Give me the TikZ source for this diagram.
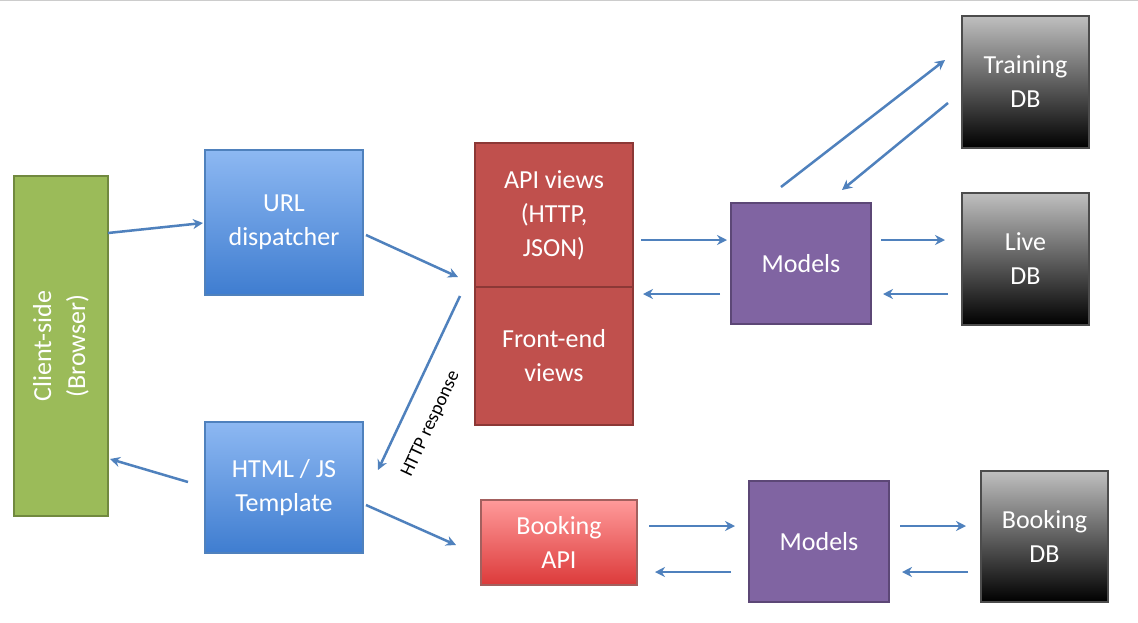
\documentclass[tikz,border=0pt]{standalone}
\usepackage{fontspec}
\setmainfont{Carlito}
\usetikzlibrary{arrows.meta}
\definecolor{arr}{HTML}{4F81BD}
\definecolor{grnf}{HTML}{9BBB59}\definecolor{grnd}{HTML}{71893F}
\definecolor{bluT}{HTML}{8DB8F2}\definecolor{bluB}{HTML}{3F7DD0}\definecolor{blud}{HTML}{4F81BD}
\definecolor{redf}{HTML}{C0504D}\definecolor{redd}{HTML}{8C3836}
\definecolor{lredT}{HTML}{FF9A9A}\definecolor{lredB}{HTML}{DC3A3A}
\definecolor{purf}{HTML}{8064A2}\definecolor{purd}{HTML}{5C4776}
\tikzset{
 txt/.style={text=white, align=center, font=\fontsize{26}{34}\selectfont},
 box/.style={draw, line width=1.2pt, inner sep=0pt, txt},
 grn/.style={box, fill=grnf, draw=grnd},
 blu/.style={box, draw=blud, top color=bluT, bottom color=bluB},
 red/.style={box, draw=redd, fill=redf},
 lred/.style={box, draw=redd!80, top color=lredT, bottom color=lredB},
 pur/.style={box, draw=purd, fill=purf},
 blk/.style={box, draw=black!70, top color=black!25, bottom color=black},
 con/.style={draw=arr, line width=2.5pt, -{Stealth[length=10pt,width=10pt]}}
}
\begin{document}
\begin{tikzpicture}[x=1pt,y=-1pt]
\useasboundingbox[fill=white] (0,0) rectangle (1138,622);
\draw[black!20] (0,0.5) -- (1138,0.5);
\node[grn, minimum width=94, minimum height=340] (cl) at (61,346) {};
\node[txt, rotate=90] (clt) at (cl) {Client-side\\(Browser)};
\node[blu, minimum width=158, minimum height=145] (url) at (284,222.5) {URL\\dispatcher};
\node[blu, minimum width=158, minimum height=131] (tpl) at (284,487.5) {HTML / JS\\Template};
\node[red, minimum width=158, minimum height=144] (api) at (554,215) {API views\\(HTTP,\\JSON)};
\node[red, minimum width=158, minimum height=138] (fe) at (554,356) {Front-end\\views};
\node[lred, minimum width=156, minimum height=85] (bapi) at (559,542.5) {Booking\\API};
\node[pur, minimum width=140, minimum height=121] (m1) at (801,263.5) {Models};
\node[pur, minimum width=140, minimum height=121] (m2) at (819,541.5) {Models};
\node[blk, minimum width=127, minimum height=132] (tdb) at (1025.5,82) {Training\\DB};
\node[blk, minimum width=127, minimum height=132] (ldb) at (1025.5,259) {Live\\DB};
\node[blk, minimum width=127, minimum height=131] (bdb) at (1044.5,536.5) {Booking\\DB};
\foreach \n/\x/\y in {a1/108/233,a2/203/223,b1/366/235,b2/458/277,c1/460/296,c2/378/470,
 d1/188/482,d2/110/459,e1/366/505,e2/456/545,f1/641/240,f2/727/240,g1/720/294,g2/643/294,
 h1/781/187,h2/945/60,i1/948/103,i2/842/190,j1/881/240,j2/945/240,k1/948/294,k2/883/294,
 l1/649/526,l2/735/526,m1a/731/572,m2a/655/572,n1/900/526,n2/966/526,o1/968/572,o2/902/572}
 {\coordinate (\n) at (\x,\y);}
\foreach \s/\t in {a1/a2,b1/b2,c1/c2,d1/d2,e1/e2,f1/f2,g1/g2,h1/h2,i1/i2,j1/j2,k1/k2,l1/l2,m1a/m2a,n1/n2,o1/o2}
 \draw[con] (\s) -- (\t);
\node[rotate=65, font=\fontsize{19}{22}\selectfont] (lab) at (431,424) {HTTP response};
\end{tikzpicture}
\end{document}
